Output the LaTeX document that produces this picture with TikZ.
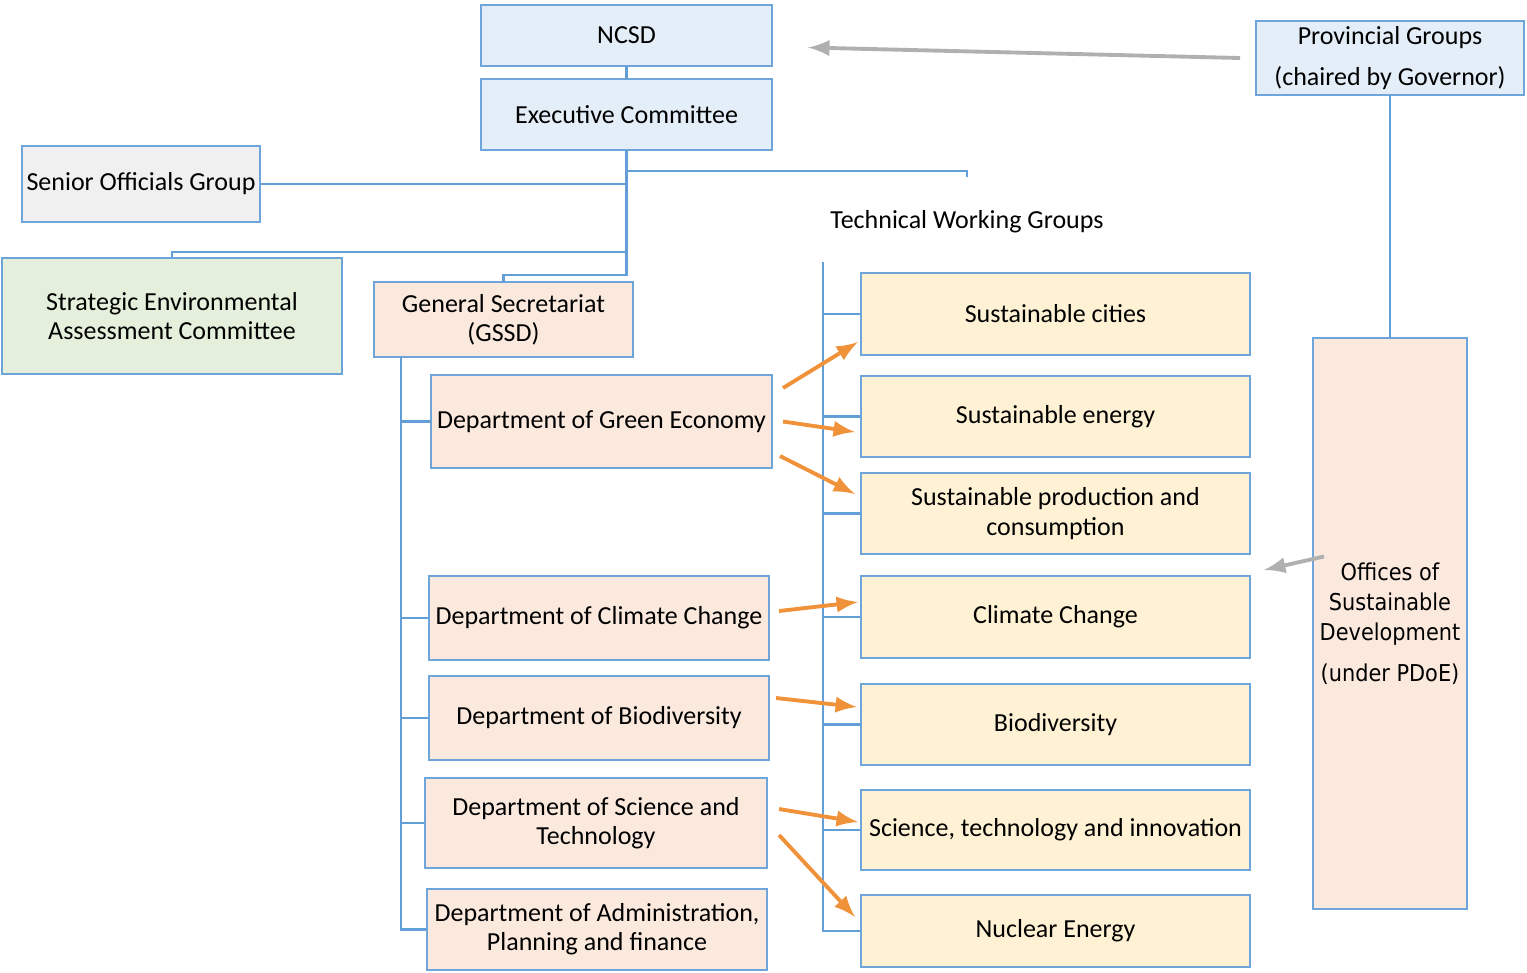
\documentclass[tikz,border=0pt]{standalone}
\usepackage{fontspec}
\setmainfont{Carlito}
\newfontfamily\officefont{DejaVu Sans}[FakeStretch=0.9]
\usepackage{tikz}
\usetikzlibrary{positioning, calc, arrows}
\definecolor{boxblue}{RGB}{110,166,220}
\definecolor{lineblue}{RGB}{100,158,214}
\definecolor{paleblue}{RGB}{227,238,249}
\definecolor{palegray}{RGB}{240,240,240}
\definecolor{palegreen}{RGB}{229,240,220}
\definecolor{palepeach}{RGB}{251,233,222}
\definecolor{paleyellow}{RGB}{255,242,212}
\definecolor{arroworange}{RGB}{240,146,58}
\definecolor{arrowgray}{RGB}{176,176,176}

\begin{document}
\begin{tikzpicture}[box/.style 2 args={rectangle,
      draw=boxblue,
      line width=0.8pt,
      inner sep=0pt,
      outer sep=0pt,
      align=center,
      minimum width=#1cm,
      minimum height=#2cm,
      font=\fontsize{7.4}{8.3}\selectfont},
    link/.style={draw=lineblue, line width=0.8pt},
    orangearrow/.style={-latex, draw=arroworange, line width=1.1pt},
    grayarrow/.style={-latex, draw=arrowgray, line width=1.1pt}]
  \useasboundingbox (0,0) rectangle (15.27,-9.72);

  % TOP LEVEL

  \node [box={2.91}{0.61}, fill=paleblue] (ncsd) at (6.265,-0.355) {NCSD};
  \node [box={2.91}{0.71}, fill=paleblue] (exec) at (6.265,-1.145) {Executive Committee};
  \node [box={2.38}{0.76}, fill=palegray] (senior) at (1.41,-1.84) {Senior Officials Group};
  \node [box={3.40}{1.16}, fill=palegreen] (sea) at (1.72,-3.16)
    {Strategic Environmental\\Assessment Committee};
  \node [box={2.59}{0.75}, fill=palepeach] (gssd) at (5.035,-3.195)
    {General Secretariat\\(GSSD)};

  % DEPARTMENTS

  \node [box={3.41}{0.93}, fill=palepeach] (ge) at (6.015,-4.215) {Department of Green Economy};
  \node [box={3.40}{0.84}, fill=palepeach] (cc) at (5.99,-6.18) {Department of Climate Change};
  \node [box={3.40}{0.84}, fill=palepeach] (bio) at (5.99,-7.18) {Department of Biodiversity};
  \node [box={3.42}{0.90}, fill=palepeach] (sci) at (5.96,-8.23)
    {Department of Science and\\Technology};
  \node [box={3.40}{0.81}, fill=palepeach] (adm) at (5.97,-9.295)
    {Department of Administration,\\Planning and finance};

  % TECHNICAL WORKING GROUPS

  \node [font=\fontsize{7.4}{8.3}\selectfont] (twg) at (9.67,-2.22) {Technical Working Groups};
  \node [box={3.89}{0.82}, fill=paleyellow] (cities) at (10.555,-3.14) {Sustainable cities};
  \node [box={3.89}{0.81}, fill=paleyellow] (energy) at (10.555,-4.165) {Sustainable energy};
  \node [box={3.89}{0.81}, fill=paleyellow] (spc) at (10.555,-5.135)
    {Sustainable production and\\consumption};
  \node [box={3.89}{0.82}, fill=paleyellow] (climate) at (10.555,-6.17) {Climate Change};
  \node [box={3.89}{0.81}, fill=paleyellow] (biod) at (10.555,-7.245) {Biodiversity};
  \node [box={3.89}{0.80}, fill=paleyellow] (stin) at (10.555,-8.30)
    {Science, technology and innovation};
  \node [box={3.89}{0.72}, fill=paleyellow] (nuke) at (10.555,-9.31) {Nuclear Energy};

  % PROVINCES

  \node [box={2.68}{0.74}, fill=paleblue] (prov) at (13.90,-0.58)
    {Provincial Groups\\[3.2pt](chaired by Governor)};
  \node [box={1.54}{5.71}, fill=palepeach, font=\officefont\fontsize{6.6}{8.6}\selectfont]
    (office) at (13.90,-6.235)
    {Offices of\\Sustainable\\Development\\[3pt](under PDoE)};

  % HIERARCHY

  \coordinate (twgtop) at (9.67,-1.77);
  \coordinate (twgspine) at (8.23,-2.62);

  \draw[link] (ncsd.south) -- (exec.north);
  \draw[link] (exec.south) ++(0,-0.21) -| (twgtop);
  \draw[link] (senior.east) -- (senior.east -| exec.south);
  \draw[link] (sea.north) -- ++(0,0.06) -| (exec.south);
  \draw[link] (gssd.north) -- ++(0,0.07) -| (exec.south);

  \foreach \d in {ge, cc, bio, sci, adm}
    \draw[link] (gssd.south west) ++(0.27,0) |- (\d.west);

  \foreach \t in {cities, energy, spc, climate, biod, stin, nuke}
    \draw[link] (twgspine) |- (\t.west);

  \draw[link] (prov.south) -- (office.north);

  % DEPARTMENT TO WORKING GROUP

  \draw[orangearrow] ([shift={(1.1mm,3.35mm)}]ge.east) -- ([shift={(-0.3mm,-2.8mm)}]cities.west);
  \draw[orangearrow] ([shift={(1.1mm,0mm)}]ge.east) -- ([shift={(-0.6mm,-1.55mm)}]energy.west);
  \draw[orangearrow] ([shift={(0.8mm,-3.45mm)}]ge.east) -- ([shift={(-0.6mm,1.95mm)}]spc.west);
  \draw[orangearrow] ([shift={(1.0mm,0.7mm)}]cc.east) -- ([shift={(-0.3mm,1.5mm)}]climate.west);
  \draw[orangearrow] ([shift={(0.7mm,2.0mm)}]bio.east) -- ([shift={(-0.4mm,1.75mm)}]biod.west);
  \draw[orangearrow] ([shift={(1.2mm,1.4mm)}]sci.east) -- ([shift={(-0.3mm,0.8mm)}]stin.west);
  \draw[orangearrow] ([shift={(1.2mm,-1.2mm)}]sci.east) -- ([shift={(-0.6mm,1.4mm)}]nuke.west);

  % REPORTING

  \draw[grayarrow] ([xshift=-1.6mm]prov.west) -- ([shift={(3.6mm,-1.2mm)}]ncsd.east);
  \draw[grayarrow] ([shift={(1.1mm,6.7mm)}]office.west) -- ([shift={(-4.9mm,5.35mm)}]office.west);

\end{tikzpicture}
\end{document}
